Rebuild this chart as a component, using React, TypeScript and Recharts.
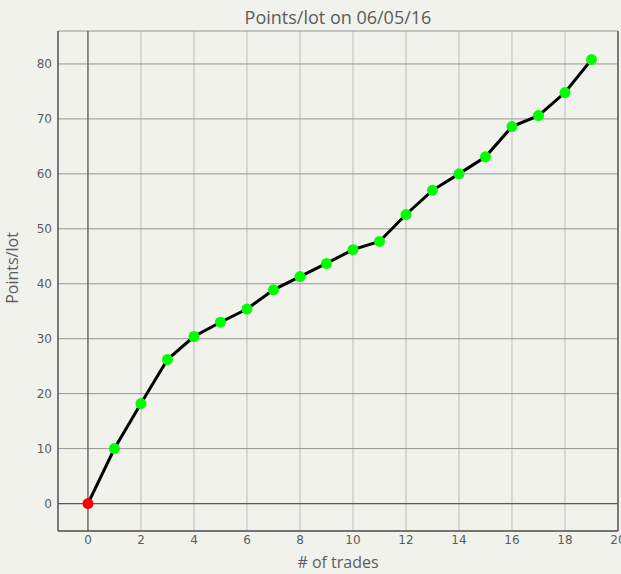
import React from "react";
import {
  LineChart,
  Line,
  CartesianGrid,
  XAxis,
  YAxis,
  ReferenceLine,
  Label,
} from "recharts";

const trades = [0, 1, 2, 3, 4, 5, 6, 7, 8, 9, 10, 11, 12, 13, 14, 15, 16, 17, 18, 19];
const pointsPerLot = [
  0, 10, 18.2, 26.2, 30.4, 33, 35.4, 38.9, 41.3, 43.7, 46.2, 47.7, 52.6, 57, 60,
  63.1, 68.6, 70.6, 74.8, 80.8,
];
const xTicks = [0, 2, 4, 6, 8, 10, 12, 14, 16, 18, 20];
const yTicks = [0, 10, 20, 30, 40, 50, 60, 70, 80];

const data = trades.map((t, i) => ({ trade: t, value: pointsPerLot[i] }));

const BG = "#f1f2ec";
const DARK = "#5a5a5a";
const TEXT = "#5c5c5c";

const Dot = (props: any) => {
  const { cx, cy, index } = props;
  return (
    <circle
      key={index}
      cx={cx}
      cy={cy}
      r={5.5}
      fill={index === 0 ? "#ff0000" : "#00ff00"}
      stroke="none"
    />
  );
};

const App = () => {
  return (
    <div
      style={{
        position: "absolute",
        left: 0,
        top: 0,
        width: 621,
        height: 574,
        background: BG,
        overflow: "hidden",
      }}
    >
      <div
        style={{
          position: "absolute",
          left: 58,
          width: 560,
          top: 5,
          textAlign: "center",
          fontFamily: "'Open Sans', sans-serif",
          fontSize: 18,
          color: TEXT,
        }}
      >
        Points/lot on 06/05/16
      </div>
      <LineChart
        width={621}
        height={574}
        data={data}
        margin={{ top: 31, right: 3, bottom: 0, left: 0 }}
      >
        <CartesianGrid horizontal={false} stroke="#bdbdbd" strokeWidth={1} />
        <CartesianGrid vertical={false} stroke="#959595" strokeWidth={1} />
        <XAxis
          dataKey="trade"
          type="number"
          domain={[-1.13, 20]}
          ticks={xTicks}
          interval={0}
          height={43}
          tickLine={false}
          axisLine={{ stroke: DARK, strokeWidth: 1.5 }}
          tick={{ fill: TEXT, fontSize: 12, fontFamily: "'DejaVu Sans', sans-serif" }}
          tickMargin={-2}
          allowDataOverflow
        >
          <Label
            value="# of trades"
            position="insideBottom"
            offset={6}
            fill={TEXT}
            fontSize={16}
            fontFamily="'Open Sans', sans-serif"
          />
        </XAxis>
        <YAxis
          type="number"
          domain={[-5, 86]}
          ticks={yTicks}
          interval={0}
          width={58}
          tickLine={false}
          axisLine={{ stroke: DARK, strokeWidth: 1.5 }}
          tick={{ fill: TEXT, fontSize: 12, fontFamily: "'DejaVu Sans', sans-serif" }}
          tickMargin={0}
          allowDataOverflow
        >
          <Label
            value="Points/lot"
            angle={-90}
            position="insideLeft"
            offset={12}
            dy={-13}
            fill={TEXT}
            fontSize={16}
            fontFamily="'Open Sans', sans-serif"
            style={{ textAnchor: "middle" }}
          />
        </YAxis>
        <ReferenceLine x={0} stroke={DARK} strokeWidth={1.2} />
        <ReferenceLine y={0} stroke={DARK} strokeWidth={1.2} />
        <ReferenceLine x={20} stroke={DARK} strokeWidth={1.5} />
        <Line
          type="linear"
          dataKey="value"
          stroke="#000000"
          strokeWidth={3}
          dot={<Dot />}
          activeDot={false}
          isAnimationActive={false}
        />
      </LineChart>
    </div>
  );
};

export default App;
